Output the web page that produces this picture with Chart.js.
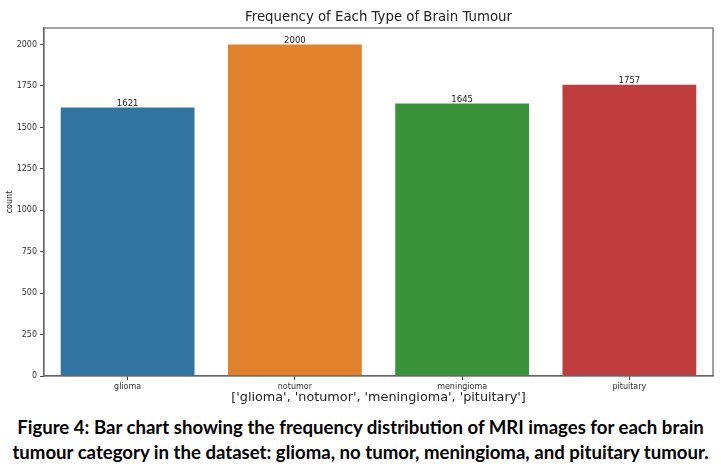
<!DOCTYPE html>
<html>
<head>
<meta charset="utf-8">
<script src="https://cdn.jsdelivr.net/npm/chart.js@4/dist/chart.umd.min.js"></script>
<style>
body{margin:0;background:#fff;}
#wrap{width:721px;height:410px;position:relative;}
#caption{width:721px;text-align:center;font-family:Lato,"Open Sans",sans-serif;font-weight:bold;font-size:18.6px;line-height:25px;color:#000;margin-top:5px;}
</style>
</head>
<body>
<div id="wrap"><canvas id="tumourChart"></canvas></div>
<div id="caption">Figure 4: Bar chart showing the frequency distribution of MRI images for each brain<br>tumour category in the dataset: glioma, no tumor, meningioma, and pituitary tumour.</div>
<script>
const categories = ['glioma', 'notumor', 'meningioma', 'pituitary'];
const counts = [1621, 2000, 1645, 1757];
const barColors = ['#3274a1', '#e1812c', '#3a923a', '#c03d3e'];
const yTicks = [0, 250, 500, 750, 1000, 1250, 1500, 1750, 2000];
const chartTitle = 'Frequency of Each Type of Brain Tumour';

// title over the plot, value labels over bars, box frame round plot
const extras = {
id:'extras',
afterDatasetsDraw(chart){
const c = chart.ctx;
const a = chart.chartArea;
const meta = chart.getDatasetMeta(0);
c.save();
c.font = '8.5px "DejaVu Sans"';
c.fillStyle = '#222';
c.textAlign = 'center';
c.textBaseline = 'bottom';
meta.data.forEach((bar, i) => {
c.fillText(String(counts[i]), bar.x, bar.y + 0.5);
});
c.font = '13.3px "DejaVu Sans"';
c.textBaseline = 'middle';
c.fillText(chartTitle, (a.left + a.right) / 2, 18);
c.strokeStyle = '#666';
c.lineWidth = 1.2;
c.strokeRect(a.left, a.top, a.right - a.left, a.bottom - a.top);
c.restore();
}
};

const ctx = document.getElementById('tumourChart');

new Chart(ctx, {
type:'bar',
data:{
labels:categories,
datasets:[{
data:counts,
backgroundColor:barColors,
borderWidth:0,
categoryPercentage:0.8,
barPercentage:1.0
}]
},
options:{
responsive:true,
maintainAspectRatio:false,
animation:false,
layout:{padding:{top:28, left:0, right:8, bottom:0}},
plugins:{
legend:{display:false},
tooltip:{enabled:false},
title:{display:false}
},
scales:{
x:{
grid:{display:true, offset:false, drawOnChartArea:false, tickLength:4, tickColor:'#444'},
border:{display:true, color:'#666', width:1.2},
ticks:{color:'#333', font:{family:'DejaVu Sans', size:8}, padding:2},
title:{
display:true,
text:"['glioma', 'notumor', 'meningioma', 'pituitary']",
color:'#222',
font:{family:'DejaVu Sans', size:12.8},
padding:{top:0, bottom:5}
},
afterFit(scale){ scale.height = 34; }
},
y:{
min:0,
max:2100,
afterBuildTicks(scale){ scale.ticks = yTicks.map(v => ({value:v})); },
grid:{display:true, drawOnChartArea:false, tickLength:4, tickColor:'#444'},
border:{display:true, color:'#666', width:1.2},
ticks:{
color:'#333',
font:{family:'DejaVu Sans', size:8},
padding:3,
callback:(v) => String(v)
},
title:{
display:true,
text:'count',
color:'#222',
font:{family:'DejaVu Sans', size:8},
padding:{top:5, bottom:0}
},
afterFit(scale){ scale.width = 44; }
}
}
},
plugins:[extras]
});
</script>
</body>
</html>
